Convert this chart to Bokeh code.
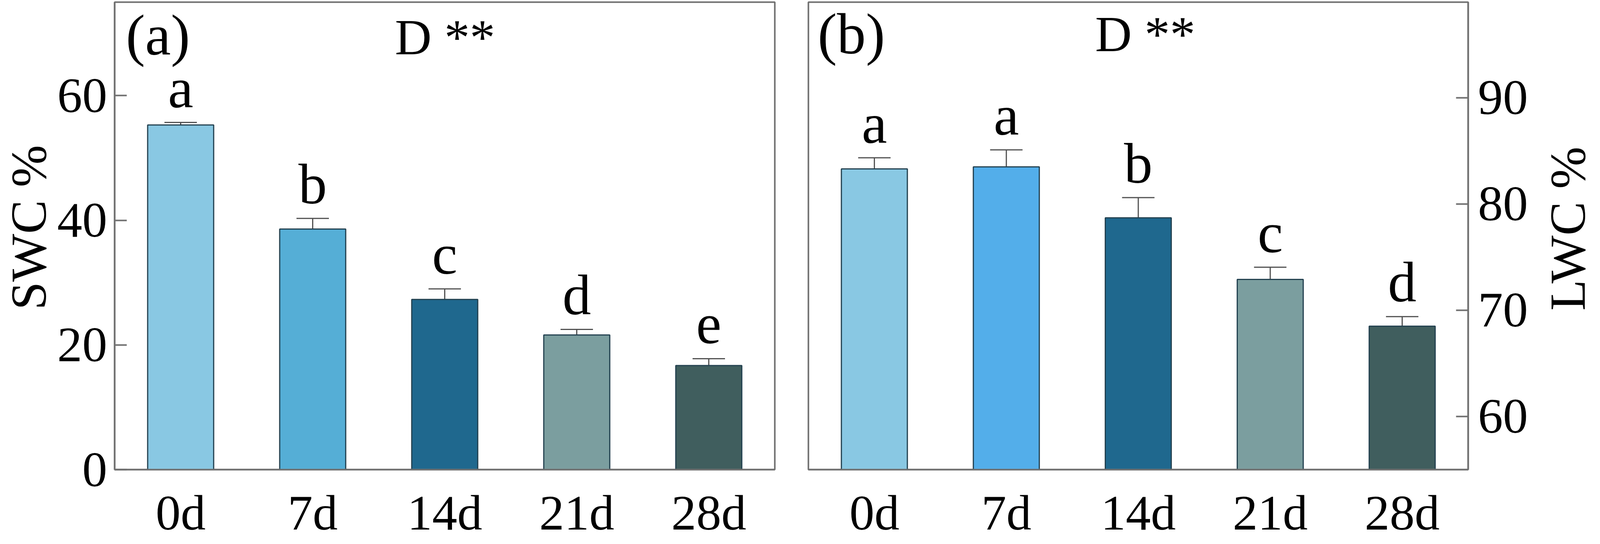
from bokeh.plotting import figure
from bokeh.models import ColumnDataSource, Range1d, FixedTicker, Whisker, TeeHead, Label
from bokeh.layouts import row
from bokeh.core.properties import value
from bokeh.embed import file_html
from bokeh.resources import INLINE

# ---------------- data ----------------
days = ["0d", "7d", "14d", "21d", "28d"]
swc = [55.3, 38.6, 27.3, 21.6, 16.7]
swc_err = [0.4, 1.7, 1.7, 0.9, 1.1]
swc_letters = ["a", "b", "c", "d", "e"]
lwc = [83.3, 83.5, 78.7, 72.9, 68.5]
lwc_err = [1.05, 1.6, 1.9, 1.15, 0.9]
lwc_letters = ["a", "a", "b", "c", "d"]
swc_ticks = [0, 20, 40, 60]
lwc_ticks = [60, 70, 80, 90]
colors_a = ["#89C8E3", "#55AED6", "#1F688E", "#7B9E9F", "#405E5E"]
colors_b = ["#89C8E3", "#53AEEA", "#1F688E", "#7B9E9F", "#405E5E"]

FONT = "Liberation Serif"
AX_COLOR = "#707070"
ERR_COLOR = "#505050"
EDGE = "#22404f"
LETTER_PX = 146
TICK_PX = "128px"
TITLE_PX = "130px"
FRAME_H = 1197
TOP_B = 5
BOT_B = 175


def make_panel(vals, errs, letters, colors, yr, ticks, side, fw,
               bl, br, tag, tag_xy, d_xy, standoff):
    p = figure(x_range=days, y_range=Range1d(*yr),
               frame_width=fw, frame_height=FRAME_H,
               output_backend="svg", toolbar_location=None,
               y_axis_location=side, min_border_left=bl, min_border_right=br,
               min_border_top=TOP_B, min_border_bottom=BOT_B)
    p.xgrid.visible = False
    p.ygrid.visible = False
    p.outline_line_color = AX_COLOR
    p.outline_line_width = 4
    p.background_fill_color = "white"
    p.border_fill_color = "white"

    px_per_unit = FRAME_H / (yr[1] - yr[0])
    tops = [v + e for v, e in zip(vals, errs)]
    gap = (38.0 + 0.338 * LETTER_PX) / px_per_unit
    src = ColumnDataSource(dict(x=days, top=vals, up=tops, color=colors,
                                lab=letters, ly=[t + gap for t in tops]))

    p.add_layout(Whisker(source=src, base="x", lower="top", upper="up",
                         line_color=ERR_COLOR, line_width=3,
                         upper_head=TeeHead(size=83, line_color=ERR_COLOR,
                                            line_width=3),
                         lower_head=None))
    p.vbar(x="x", top="top", bottom=0, width=0.5, source=src,
           fill_color="color", line_color=EDGE, line_width=3)
    p.text(x="x", y="ly", text="lab", source=src, text_align="center",
           text_baseline="middle", text_font=value(FONT),
           text_font_size=value(f"{LETTER_PX}px"), text_color="black")

    p.add_layout(Label(x=tag_xy[0], y=tag_xy[1], text=tag, text_font=FONT,
                       text_font_size="148px", text_baseline="middle",
                       text_align="left", text_color="black"))
    p.add_layout(Label(x=d_xy[0], y=d_xy[1], text="D **", text_font=FONT,
                       text_font_size="130px", text_baseline="middle",
                       text_align="left", text_color="black"))

    ya = p.yaxis[0]
    ya.ticker = FixedTicker(ticks=ticks)
    ya.minor_tick_line_color = None
    ya.major_tick_in = 31
    ya.major_tick_out = 0
    ya.major_tick_line_color = AX_COLOR
    ya.major_tick_line_width = 4
    ya.axis_line_color = AX_COLOR
    ya.axis_line_width = 4
    ya.major_label_text_font = FONT
    ya.major_label_text_font_size = TICK_PX
    ya.major_label_text_color = "black"
    ya.major_label_standoff = standoff

    xa = p.xaxis[0]
    xa.major_tick_line_color = None
    xa.minor_tick_line_color = None
    xa.axis_line_color = AX_COLOR
    xa.axis_line_width = 4
    xa.major_label_text_font = FONT
    xa.major_label_text_font_size = TICK_PX
    xa.major_label_text_color = "black"
    xa.major_label_standoff = 33
    return p


def title_fig(w, text, cx, cy):
    # cy: label centre, measured in frame pixels from the frame bottom
    f = figure(frame_width=w, frame_height=FRAME_H, x_range=Range1d(0, w),
               y_range=Range1d(0, FRAME_H), output_backend="svg",
               toolbar_location=None, x_axis_location=None,
               y_axis_location=None, min_border_left=0, min_border_right=0,
               min_border_top=TOP_B, min_border_bottom=BOT_B)
    f.grid.visible = False
    f.outline_line_color = None
    f.border_fill_color = "white"
    f.background_fill_color = "white"
    f.add_layout(Label(x=cx, y=cy, text=text, text_font=FONT,
                       text_font_size=TITLE_PX, text_baseline="middle",
                       text_align="center", text_color="black",
                       angle=90, angle_units="deg"))
    return f


left_title = title_fig(143, "SWC %", 72, 620)
pa = make_panel(swc, swc_err, swc_letters, colors_a, (0, 75), swc_ticks,
                "left", 1690, 147, 43,
                "(a)", (0.085, 69.7), (2.123, 69.39), 19)
pb = make_panel(lwc, lwc_err, lwc_letters, colors_b, (55, 99), lwc_ticks,
                "right", 1689, 43, 155,
                "(b)", (0.07, 96.0), (2.173, 96.01), 25)
right_title = title_fig(170, "LWC %", 98, 617)

layout = row(left_title, pa, pb, right_title)
open("out.html", "w").write(file_html(layout, INLINE))
